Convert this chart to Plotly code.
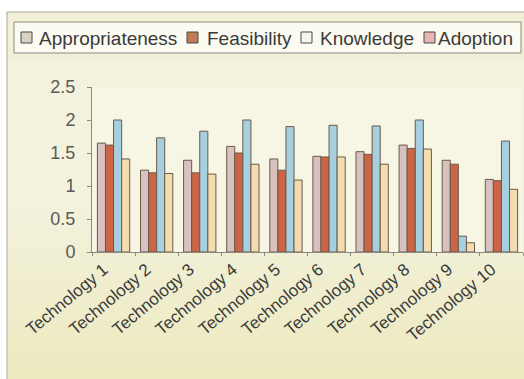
import plotly.graph_objects as go

# Mean ratings per technology
technologies = [f"Technology {i}" for i in range(1, 11)]
appropriateness = [1.65, 1.24, 1.39, 1.60, 1.41, 1.45, 1.52, 1.62, 1.39, 1.10]
feasibility = [1.62, 1.20, 1.20, 1.50, 1.24, 1.44, 1.48, 1.57, 1.33, 1.08]
knowledge = [2.00, 1.73, 1.83, 2.00, 1.90, 1.92, 1.91, 2.00, 0.24, 1.68]
adoption = [1.41, 1.19, 1.18, 1.33, 1.09, 1.44, 1.33, 1.56, 0.14, 0.95]
y_ticks = [0, 0.5, 1, 1.5, 2, 2.5]

series_names = ["Appropriateness", "Feasibility", "Knowledge", "Adoption"]
series_values = [appropriateness, feasibility, knowledge, adoption]
series_colors = ["#d8c2c0", "#cc6546", "#a6cfe0", "#f2dcb0"]
legend_swatches = ["#d9d2c4", "#c27a55", "#f6f6ee", "#e8b4b4"]

W, H = 524, 379
L, R, T, B = 92, 1, 87, 127
pw, ph = W - L - R, H - T - B


def px_x(p):
    return (p - L) / pw


def px_y(p):
    return (H - B - p) / ph


fig = go.Figure()
for name, vals, color in zip(series_names, series_values, series_colors):
    fig.add_trace(go.Bar(
        name=name, x=technologies, y=vals, showlegend=False,
        marker=dict(color=color, line=dict(color="#6a5a4a", width=1)),
    ))

# Chart frame
shapes = [
    dict(type="rect", xref="paper", yref="paper", layer="below",
         x0=px_x(7), x1=px_x(527), y0=px_y(382), y1=px_y(12),
         fillcolor="#f1f0d6", line=dict(color="#a8a898", width=1)),
]

# Soft vertical shading of the chart background, in thin horizontal strips
top_rgb = (0xf3, 0xf2, 0xdc)
bottom_rgb = (0xec, 0xe9, 0xbe)
strip_edges = list(range(60, 384, 8))
for i in range(len(strip_edges) - 1):
    y_top, y_bot = strip_edges[i], strip_edges[i + 1]
    t = max(0.0, (y_top - 200) / (380 - 200))
    rgb = tuple(round(a + (b - a) * t) for a, b in zip(top_rgb, bottom_rgb))
    shapes.append(dict(type="rect", xref="paper", yref="paper", layer="below",
                       x0=px_x(8), x1=px_x(526), y0=px_y(y_bot), y1=px_y(y_top),
                       fillcolor="rgb(%d,%d,%d)" % rgb, line=dict(width=0)))

# Pale plotting area
shapes.append(dict(type="rect", xref="paper", yref="paper", layer="below",
                   x0=0, x1=1, y0=0, y1=1,
                   fillcolor="#f7f5e4", line=dict(width=0)))

# Legend box with swatches
shapes.append(dict(type="rect", xref="paper", yref="paper", layer="above",
                   x0=px_x(14), x1=px_x(521), y0=px_y(53), y1=px_y(22),
                   fillcolor="rgba(252,252,244,0.9)",
                   line=dict(color="#8a8a80", width=1)))

annotations = []
legend_text_x = [37, 205, 318, 436]
legend_box_x = [21, 187, 301, 424]
for name, sw, tx, bx in zip(series_names, legend_swatches, legend_text_x, legend_box_x):
    shapes.append(dict(type="rect", xref="paper", yref="paper", layer="above",
                       x0=px_x(bx), x1=px_x(bx + 11), y0=px_y(43), y1=px_y(32),
                       fillcolor=sw, line=dict(color="#4a4a44", width=1)))
    annotations.append(dict(text=name, xref="paper", yref="paper",
                            x=px_x(tx), y=px_y(38), xanchor="left", yanchor="middle",
                            showarrow=False,
                            font=dict(size=19, color="#3a3a3a")))

fig.update_layout(
    width=W, height=H,
    margin=dict(l=L, r=R, t=T, b=B, pad=0),
    paper_bgcolor="white",
    plot_bgcolor="#f7f5e4",
    barmode="group",
    bargap=0.25,
    bargroupgap=0.0,
    showlegend=False,
    font=dict(family="Liberation Sans, Arial, sans-serif", color="#444"),
    shapes=shapes,
    annotations=annotations,
    xaxis=dict(
        showline=True, linecolor="#8a8a80", linewidth=1,
        ticks="outside", ticklen=3, tickcolor="#8a8a80",
        tickson="boundaries", tickangle=-40,
        ticklabelshift=-10,
        tickfont=dict(size=17, color="#3a3a3a"),
        showgrid=False,
    ),
    yaxis=dict(
        range=[0, 2.5], tickvals=y_ticks,
        ticktext=[f"{v:g}" for v in y_ticks],
        showline=True, linecolor="#8a8a80", linewidth=1,
        ticks="outside", ticklen=4, tickcolor="#8a8a80",
        ticklabelstandoff=8,
        tickfont=dict(size=18, color="#5a5a5a"),
        showgrid=False, zeroline=False,
    ),
)

fig.write_html("out.html")
